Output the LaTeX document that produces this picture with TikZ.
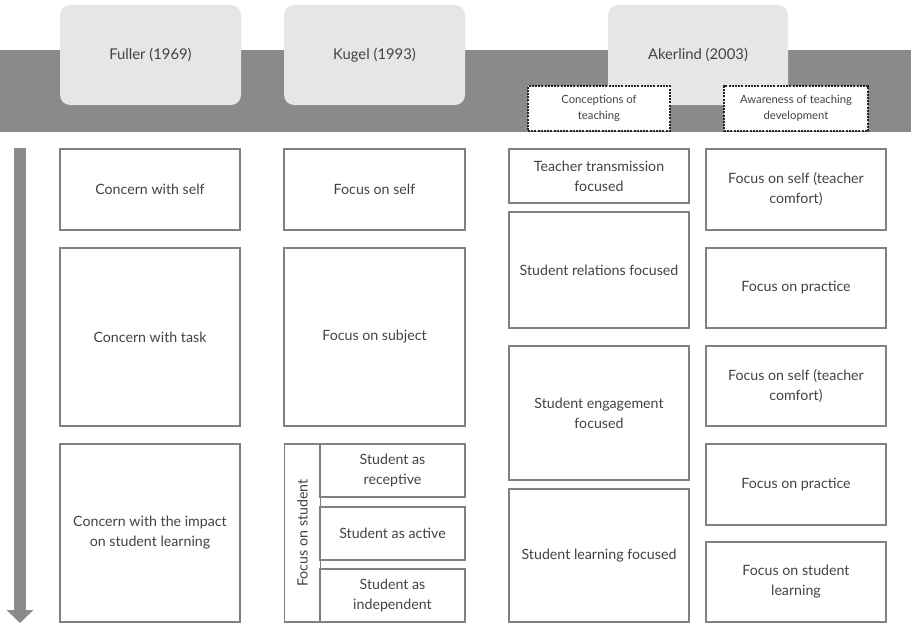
\documentclass[tikz,border=0pt]{standalone}
\usepackage{fontspec}
\setmainfont{Lato}
\usetikzlibrary{arrows.meta}
\definecolor{band}{HTML}{8A8A8A}
\definecolor{head}{HTML}{E6E6E6}
\definecolor{boxline}{HTML}{808080}
\definecolor{txt}{HTML}{434343}
\begin{document}
\begin{tikzpicture}[x=1pt,y=-1pt,
  hdr/.style={fill=head, draw=none, rounded corners=10pt, minimum width=181pt, minimum height=100pt, font=\fontsize{14.8}{18}\selectfont, text=txt, inner sep=0pt},
  cbox/.style={draw=boxline, line width=1.3pt, fill=white, text=txt, align=center, inner sep=0pt, font=\fontsize{14.2}{20}\selectfont},
  dbox/.style={draw=black!85, dash pattern=on 2pt off 1.2pt, line width=1.1pt, fill=white, text=txt, align=center, inner sep=0pt, minimum width=142pt, minimum height=45pt, font=\fontsize{11.3}{16}\selectfont}]
\useasboundingbox (0,0) rectangle (911,624);
% band
\fill[band] (0,50) rectangle (911,132);
% header boxes
\node[hdr] (fuller) at (150.5,55) {Fuller (1969)};
\node[hdr] (kugel) at (374.5,55) {Kugel (1993)};
\node[hdr, minimum width=180pt] (akerlind) at (698,55) {Akerlind (2003)};
\node[dbox] (concep) at (599,108.5) {Conceptions of\\teaching};
\node[dbox, minimum width=144pt] (aware) at (796,108.5) {Awareness of teaching\\development};
% arrow
\coordinate (arrtop) at (20,148);
\coordinate (arrbot) at (20,623);
\draw[draw=band, line width=12pt, -{Triangle[width=26pt,length=13pt]}] (arrtop) -- (arrbot);
% column 1
\node[cbox, minimum width=180pt, minimum height=81pt] (f1) at (150,189.5) {Concern with self};
\node[cbox, minimum width=180pt, minimum height=178pt] (f2) at (150,337) {Concern with task};
\node[cbox, minimum width=180pt, minimum height=178pt] (f3) at (150,533) {Concern with the impact\\on student learning};
% column 2
\node[cbox, minimum width=181pt, minimum height=81pt] (k1) at (374.5,189.5) {Focus on self};
\node[cbox, minimum width=181pt, minimum height=178pt] (k2) at (374.5,337) {Focus on subject};
\node[cbox, minimum width=36pt, minimum height=178pt] (k3) at (302.5,533) {};
\node[text=txt, rotate=90, font=\fontsize{14.2}{18}\selectfont, inner sep=0pt] (k3t) at (k3.center) {Focus on student};
\node[cbox, minimum width=145pt, minimum height=53pt] (k4) at (392.5,470.5) {Student as\\receptive};
\node[cbox, minimum width=145pt, minimum height=53pt] (k5) at (392.5,533.5) {Student as active};
\node[cbox, minimum width=145pt, minimum height=53pt] (k6) at (392.5,595.5) {Student as\\independent};
% column 3
\node[cbox, minimum width=180pt, minimum height=54pt] (a1) at (599,176) {Teacher transmission\\focused};
\node[cbox, minimum width=180pt, minimum height=116pt] (a2) at (599,270) {Student relations focused};
\node[cbox, minimum width=180pt, minimum height=134pt] (a3) at (599,413) {Student engagement\\focused};
\node[cbox, minimum width=180pt, minimum height=133pt] (a4) at (599,555.5) {Student learning focused};
% column 4
\node[cbox, minimum width=180pt, minimum height=81pt] (b1) at (796,189.5) {Focus on self (teacher\\comfort)};
\node[cbox, minimum width=180pt, minimum height=80pt] (b2) at (796,288) {Focus on practice};
\node[cbox, minimum width=180pt, minimum height=80pt] (b3) at (796,386) {Focus on self (teacher\\comfort)};
\node[cbox, minimum width=180pt, minimum height=81pt] (b4) at (796,484.5) {Focus on practice};
\node[cbox, minimum width=180pt, minimum height=80pt] (b5) at (796,582) {Focus on student\\learning};
\end{tikzpicture}
\end{document}
